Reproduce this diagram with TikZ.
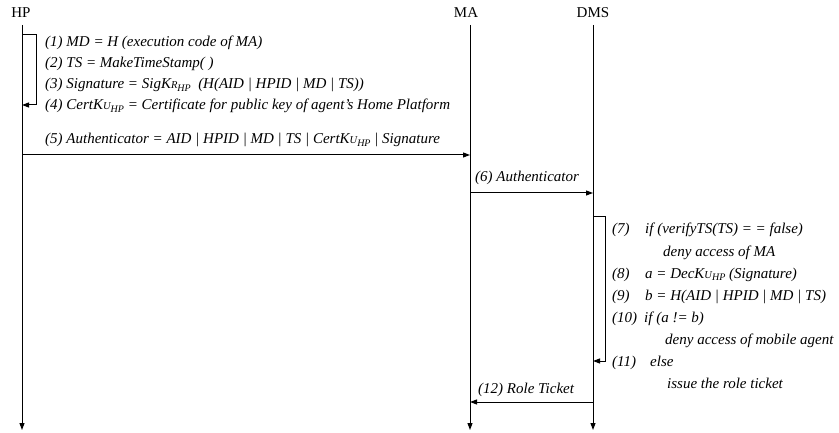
\documentclass[tikz,border=0pt]{standalone}
\usepackage{fontspec}
\setmainfont{Liberation Serif}
\usetikzlibrary{arrows.meta}
\newcommand{\lowtxt}[1]{\raisebox{-0.4ex}{\fontsize{10}{10}\selectfont #1}}
\newcommand{\smc}[1]{{\fontsize{10.5}{10}\selectfont #1}}
\begin{document}
\begin{tikzpicture}[x=1pt,y=-1pt,
  lbl/.style={font=\fontsize{15}{15}\selectfont\itshape, anchor=base west, inner sep=0pt},
  head/.style={font=\fontsize{15}{15}\selectfont, inner sep=0pt},
  life/.style={line width=1pt, -{Triangle[length=7pt,width=5pt]}},
  msg/.style={line width=1pt, -{Triangle[length=7pt,width=5pt]}},
]
\useasboundingbox (0,0) rectangle (839,433);
% heads
\node[head] (HP) at (21,13) {HP};
\node[head] (MA) at (466,13) {MA};
\node[head] (DMS) at (593,13) {DMS};
\coordinate (hpTop) at (22,25);
\coordinate (maTop) at (470,25);
\coordinate (dmsTop) at (593,25);
\coordinate (hpBot) at (22,430);
\coordinate (maBot) at (470,430);
\coordinate (dmsBot) at (593,430);
\draw[life] (hpTop) -- (hpBot);
\draw[life] (maTop) -- (maBot);
\draw[life] (dmsTop) -- (dmsBot);
% HP self loop
\coordinate (hpL1) at (22,35);
\coordinate (hpL2) at (22,105);
\draw[msg] (hpL1) -- ++(14,0) |- (hpL2);
\node[lbl] (t1) at (45,47) {(1) MD = H (execution code of MA)};
\node[lbl] (t2) at (45,68) {(2) TS = MakeTimeStamp( )};
\node[lbl] (t3) at (45,89) {(3) Signature = SigK\smc{R}\lowtxt{HP}\ \ (H(AID | HPID | MD | TS))};
\node[lbl] (t4) at (45,110) {(4) CertK\smc{U}\lowtxt{HP} = Certificate for public key of agent’s Home Platform};
% message 5
\coordinate (hp5) at (22,155);
\coordinate (ma5) at (470,155);
\draw[msg] (hp5) -- (ma5);
\node[lbl] (t5) at (45,144) {(5) Authenticator = AID | HPID | MD | TS | CertK\smc{U}\lowtxt{HP} | Signature};
% message 6
\coordinate (ma6) at (470,193);
\coordinate (dms6) at (593,193);
\draw[msg] (ma6) -- (dms6);
\node[lbl] (t6) at (475,182) {(6) Authenticator};
% DMS self loop
\coordinate (dmsL1) at (593,217);
\coordinate (dmsL2) at (593,361);
\draw[msg] (dmsL1) -- ++(12,0) |- (dmsL2);
\node[lbl] (n7) at (612,234) {(7)};
\node[lbl] (t7) at (645,234) {if (verifyTS(TS) = = false)};
\node[lbl] (t7b) at (663,256) {deny access of MA};
\node[lbl] (n8) at (612,278) {(8)};
\node[lbl] (t8) at (645,278) {a = DecK\smc{U}\lowtxt{HP} (Signature)};
\node[lbl] (n9) at (612,300) {(9)};
\node[lbl] (t9) at (645,300) {b = H(AID | HPID | MD | TS)};
\node[lbl] (n10) at (612,322) {(10)};
\node[lbl] (t10) at (644,322) {if (a != b)};
\node[lbl] (t10b) at (665,344) {deny access of mobile agent};
\node[lbl] (n11) at (612,366) {(11)};
\node[lbl] (t11) at (650,366) {else};
\node[lbl] (t11b) at (667,388) {issue the role ticket};
% message 12
\coordinate (dms12) at (593,402);
\coordinate (ma12) at (470,402);
\draw[msg] (dms12) -- (ma12);
\node[lbl] (t12) at (478,393) {(12) Role Ticket};
\end{tikzpicture}
\end{document}
